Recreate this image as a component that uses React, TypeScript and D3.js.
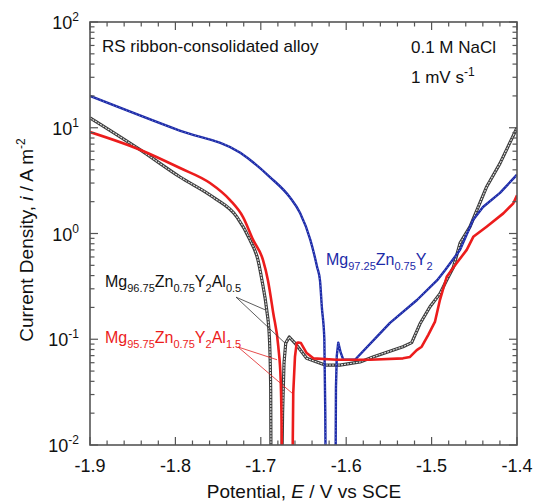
import React from "react";
import * as d3 from "d3";

// Mg97.25Zn0.75Y2 (blue)
const blueCathodic: [number, number][] = [
  [-1.9, 20.0], [-1.795, 9.4], [-1.724, 5.8], [-1.689, 3.4], [-1.666, 2.2],
  [-1.654, 1.56], [-1.642, 0.87], [-1.634, 0.48], [-1.6307, 0.36], [-1.6285, 0.2],
  [-1.6256, 0.1], [-1.6245, 0.02], [-1.624, 0.005],
];
const blueAnodic: [number, number][] = [
  [-1.6125, 0.005], [-1.612, 0.035], [-1.611, 0.07], [-1.6093, 0.093], [-1.6065, 0.075],
  [-1.6034, 0.064], [-1.5897, 0.064], [-1.5487, 0.143], [-1.5171, 0.235], [-1.4937, 0.36],
  [-1.4843, 0.45], [-1.4667, 0.7], [-1.4515, 1.34], [-1.4398, 1.78], [-1.4199, 2.42],
  [-1.4, 3.6],
];

// Mg96.75Zn0.75Y2Al0.5 (black)
const blackCathodic: [number, number][] = [
  [-1.9, 12.4], [-1.8415, 6.2], [-1.7946, 3.42], [-1.756, 2.21], [-1.7279, 1.43],
  [-1.7127, 0.87], [-1.7033, 0.56], [-1.6986, 0.36], [-1.6931, 0.19], [-1.69, 0.106],
  [-1.6884, 0.033], [-1.688, 0.005],
];
const blackAnodic: [number, number][] = [
  [-1.6755, 0.005], [-1.6745, 0.02], [-1.6728, 0.06], [-1.6708, 0.092], [-1.6667, 0.105],
  [-1.66, 0.092], [-1.6463, 0.066], [-1.6248, 0.057], [-1.6073, 0.057], [-1.5838, 0.061],
  [-1.5686, 0.068], [-1.5335, 0.085], [-1.5233, 0.093], [-1.5136, 0.14], [-1.5019, 0.203],
  [-1.4902, 0.27], [-1.4823, 0.363], [-1.4745, 0.48], [-1.4667, 0.81], [-1.455, 1.16],
  [-1.4355, 2.77], [-1.4199, 4.6], [-1.4, 10.0],
];

// Mg95.75Zn0.75Y2Al1.5 (red)
const redCathodic: [number, number][] = [
  [-1.9, 9.1], [-1.8415, 6.2], [-1.7946, 4.16], [-1.7595, 3.0], [-1.736, 2.07],
  [-1.7208, 1.43], [-1.709, 0.87], [-1.6974, 0.56], [-1.6916, 0.36], [-1.6854, 0.176],
  [-1.6795, 0.085], [-1.6767, 0.041], [-1.6755, 0.0115], [-1.6752, 0.005],
];
const redAnodic: [number, number][] = [
  [-1.663, 0.005], [-1.662, 0.031], [-1.66, 0.068], [-1.658, 0.092], [-1.6561, 0.093],
  [-1.653, 0.092], [-1.6463, 0.074], [-1.6385, 0.066], [-1.6111, 0.064], [-1.5721, 0.064],
  [-1.5335, 0.066], [-1.5253, 0.068], [-1.5174, 0.079], [-1.5116, 0.085], [-1.5039, 0.11],
  [-1.496, 0.147], [-1.4902, 0.236], [-1.4823, 0.39], [-1.4706, 0.525], [-1.4589, 0.7],
  [-1.4512, 0.93], [-1.4356, 1.16], [-1.416, 1.55], [-1.4043, 1.93], [-1.4, 2.3],
];

// leader lines: start, end (data coords)
const blackLeaders: [number, number][][] = [
  [[-1.729, 0.25], [-1.6951, 0.19]],
  [[-1.729, 0.25], [-1.6717, 0.092]],
];
const redLeaders: [number, number][][] = [
  [[-1.7267, 0.0845], [-1.681, 0.064]],
  [[-1.7267, 0.0845], [-1.6635, 0.031]],
];

const xMajor = [-1.9, -1.8, -1.7, -1.6, -1.5, -1.4];
const yExponents = [-2, -1, 0, 1, 2];

const W = 537;
const H = 502;
const m = { left: 90, right: 517, top: 22, bottom: 445 };
const font = "'Liberation Sans', Arial, sans-serif";
const axisColor = "#555";

const App = () => {
  const x = d3.scaleLinear().domain([-1.9, -1.4]).range([m.left, m.right]);
  const y = d3.scaleLog().domain([0.01, 100]).range([m.bottom, m.top]);
  const smooth = d3
    .line<[number, number]>()
    .x((d) => x(d[0]))
    .y((d) => y(d[1]))
    .curve(d3.curveMonotoneX);
  const line = d3
    .line<[number, number]>()
    .x((d) => x(d[0]))
    .y((d) => y(d[1]));

  const xMinor = d3.range(0, 26).map((i) => -1.9 + i * 0.02).filter((_, i) => i % 5 !== 0);
  const yMinor: number[] = [];
  for (let e = -2; e < 2; e++) for (let k = 2; k <= 9; k++) yMinor.push(k * Math.pow(10, e));

  // chemical formula pieces: subscript / back to baseline
  const sub = (t: string) => (
    <tspan fontSize={11} dy={5}>{t}</tspan>
  );
  const up = (t: string) => (
    <tspan fontSize={16} dy={-5}>{t}</tspan>
  );

  const curves = [
    { cath: blackCathodic, anod: blackAnodic, key: "k" },
    { cath: blueCathodic, anod: blueAnodic, key: "b" },
    { cath: redCathodic, anod: redAnodic, key: "r" },
  ];

  return (
    <svg
      width={W}
      height={H}
      style={{ position: "absolute", left: 0, top: 0, background: "#fff" }}
      fontFamily={font}
    >
      <defs>
        <clipPath id="plot">
          <rect x={m.left} y={m.top} width={m.right - m.left} height={m.bottom - m.top} />
        </clipPath>
      </defs>

      {/* curves */}
      <g clipPath="url(#plot)" fill="none" strokeLinejoin="round">
        {curves.map((c) => {
          const paths = [smooth(c.cath) || "", line(c.anod) || ""];
          if (c.key === "k")
            return paths.map((p, i) => (
              <g key={c.key + i}>
                <path d={p} stroke="#3a3a3a" strokeWidth={3.2} />
                <path d={p} stroke="#e6e6e6" strokeWidth={1.1} strokeDasharray="2 1" />
              </g>
            ));
          if (c.key === "b")
            return paths.map((p, i) => (
              <g key={c.key + i}>
                <path d={p} stroke="#1c2aa8" strokeWidth={2.4} />
                <path d={p} stroke="#8d9ae0" strokeWidth={0.8} strokeDasharray="1 2.5" />
              </g>
            ));
          return paths.map((p, i) => (
            <path key={c.key + i} d={p} stroke="#ec1c1c" strokeWidth={2.6} />
          ));
        })}
      </g>

      {/* leader lines */}
      {blackLeaders.map((l, i) => (
        <line key={"kl" + i} x1={x(l[0][0])} y1={y(l[0][1])} x2={x(l[1][0])} y2={y(l[1][1])}
          stroke="#333" strokeWidth={0.8} />
      ))}
      {redLeaders.map((l, i) => (
        <line key={"rl" + i} x1={x(l[0][0])} y1={y(l[0][1])} x2={x(l[1][0])} y2={y(l[1][1])}
          stroke="#e02020" strokeWidth={0.8} />
      ))}

      {/* frame */}
      <rect x={m.left} y={m.top} width={m.right - m.left} height={m.bottom - m.top}
        fill="none" stroke={axisColor} strokeWidth={1.6} />

      {/* ticks, inward on all four sides */}
      <g stroke={axisColor} strokeWidth={1.2}>
        {xMajor.map((v) => (
          <g key={"xm" + v}>
            <line x1={x(v)} x2={x(v)} y1={m.bottom} y2={m.bottom - 8} />
            <line x1={x(v)} x2={x(v)} y1={m.top} y2={m.top + 8} />
          </g>
        ))}
        {xMinor.map((v, i) => (
          <g key={"xn" + i}>
            <line x1={x(v)} x2={x(v)} y1={m.bottom} y2={m.bottom - 4.5} />
            <line x1={x(v)} x2={x(v)} y1={m.top} y2={m.top + 4.5} />
          </g>
        ))}
        {yExponents.map((e) => (
          <g key={"ym" + e}>
            <line x1={m.left} x2={m.left + 8} y1={y(Math.pow(10, e))} y2={y(Math.pow(10, e))} />
            <line x1={m.right} x2={m.right - 8} y1={y(Math.pow(10, e))} y2={y(Math.pow(10, e))} />
          </g>
        ))}
        {yMinor.map((v, i) => (
          <g key={"yn" + i}>
            <line x1={m.left} x2={m.left + 4.5} y1={y(v)} y2={y(v)} />
            <line x1={m.right} x2={m.right - 4.5} y1={y(v)} y2={y(v)} />
          </g>
        ))}
      </g>

      {/* tick labels */}
      <g fontSize={18} fill="#111">
        {xMajor.map((v) => (
          <text key={"xl" + v} x={x(v)} y={472} textAnchor="middle">{v.toFixed(1)}</text>
        ))}
        {yExponents.map((e) => (
          <text key={"yl" + e} x={79} y={y(Math.pow(10, e)) + 7} textAnchor="end">
            10<tspan fontSize={12} dy={-8}>{e}</tspan>
          </text>
        ))}
      </g>

      {/* axis titles */}
      <text x={304} y={498} fontSize={19} textAnchor="middle" fill="#111">
        Potential, <tspan fontStyle="italic">E</tspan> / V vs SCE
      </text>
      <text transform="translate(33,240) rotate(-90)" fontSize={19} textAnchor="middle" fill="#111">
        Current Density, <tspan fontStyle="italic">i</tspan> / A m<tspan fontSize={12} dy={-8}>-2</tspan>
      </text>

      {/* annotations */}
      <g fontSize={17} fill="#111">
        <text x={102} y={52}>RS ribbon-consolidated alloy</text>
        <text x={411} y={53}>0.1 M NaCl</text>
        <text x={411} y={83}>
          1 mV s<tspan fontSize={12} dy={-7}>-1</tspan>
        </text>
      </g>
      <text x={326} y={265} fontSize={16} fill="#1c2aa8">
        Mg{sub("97.25")}{up("Zn")}{sub("0.75")}{up("Y")}{sub("2")}
      </text>
      <text x={105} y={287} fontSize={16} fill="#111">
        Mg{sub("96.75")}{up("Zn")}{sub("0.75")}{up("Y")}{sub("2")}{up("Al")}{sub("0.5")}
      </text>
      <text x={105} y={343} fontSize={16} fill="#ec1c1c">
        Mg{sub("95.75")}{up("Zn")}{sub("0.75")}{up("Y")}{sub("2")}{up("Al")}{sub("1.5")}
      </text>
    </svg>
  );
};

export default App;
